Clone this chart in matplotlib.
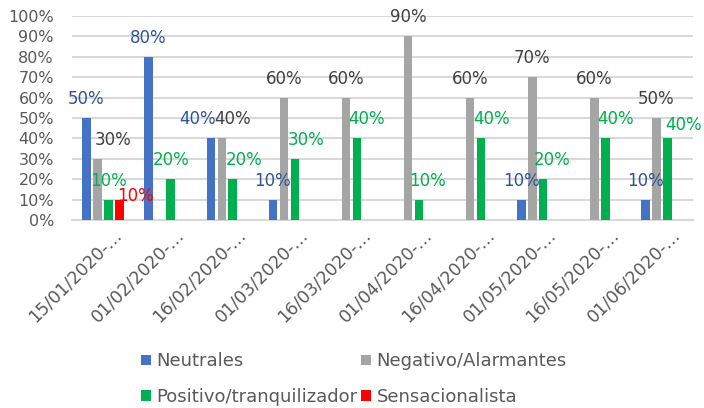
import matplotlib
matplotlib.use("Agg")
import matplotlib.pyplot as plt
import matplotlib.transforms as mtransforms
import numpy as np

# periods (x axis)
fechas = ["15/01/2020-…", "01/02/2020-…", "16/02/2020-…", "01/03/2020-…",
          "16/03/2020-…", "01/04/2020-…", "16/04/2020-…", "01/05/2020-…",
          "16/05/2020-…", "01/06/2020-…"]

# share of news per type (0 = no bar / no label)
neutrales = [0.5, 0.8, 0.4, 0.1, 0.0, 0.0, 0.0, 0.1, 0.0, 0.1]
negativo = [0.3, 0.0, 0.4, 0.6, 0.6, 0.9, 0.6, 0.7, 0.6, 0.5]
positivo = [0.1, 0.2, 0.2, 0.3, 0.4, 0.1, 0.4, 0.2, 0.4, 0.4]
sensacionalista = [0.1, 0.0, 0.0, 0.0, 0.0, 0.0, 0.0, 0.0, 0.0, 0.0]

series = [
    ("Neutrales", neutrales, "#4472C4", "#2F5597"),
    ("Negativo/Alarmantes", negativo, "#A5A5A5", "#404040"),
    ("Positivo/tranquilizador", positivo, "#00B050", "#00B050"),
    ("Sensacionalista", sensacionalista, "#FF0000", "#FF0000"),
]

# label nudges in pixels (group, series) -> (dx, dy), like Excel moved them
nudges = {
    (0, 1): (16, 0), (0, 3): (16, -15),
    (2, 0): (-13, 0), (2, 1): (11, 0), (2, 2): (11, 0),
    (3, 2): (11, 0), (4, 2): (10, 0), (5, 2): (8, 0), (6, 2): (10, 0),
    (7, 2): (9, 0), (8, 2): (10, 0), (9, 2): (16, -6),
}

plt.rcParams['font.family'] = ['DejaVu Sans']

fig = plt.figure(figsize=(7.04, 4.08), dpi=100)
ax = fig.add_axes([72 / 704, 1 - 220 / 408, 621 / 704, 204 / 408])

x = np.arange(len(fechas))
step = 0.177
width = 0.137

handles = []
for j, (name, vals, color, lcolor) in enumerate(series):
    pos = x + (j - 1.5) * step
    h = ax.bar(pos, vals, width=width, color=color, label=name, zorder=3)
    handles.append(h)
    for i, v in enumerate(vals):
        if v <= 0:
            continue
        dx, dy = nudges.get((i, j), (0, 0))
        ax.annotate(f"{v:.0%}", xy=(pos[i], v), xytext=(dx, 14 + dy),
                    textcoords="offset pixels", ha="center", va="baseline",
                    fontsize=12, color=lcolor, zorder=4)

ax.set_xlim(-0.5, len(fechas) - 0.5)
ax.set_ylim(0, 1)
ax.set_yticks(np.arange(0, 1.01, 0.1))
ax.set_yticklabels([f"{t:.0%}" for t in np.arange(0, 1.01, 0.1)])
ax.yaxis.grid(True, color="#D9D9D9", linewidth=1.5, zorder=0)
ax.tick_params(axis="y", length=0, pad=13, labelsize=11.5, labelcolor="#595959")
ax.tick_params(axis="x", length=0, labelsize=12.5, labelcolor="#595959")
for s in ["top", "right", "left"]:
    ax.spines[s].set_visible(False)
ax.spines["bottom"].set_color("#D9D9D9")
ax.spines["bottom"].set_linewidth(1.5)

ax.set_xticks(x)
ax.set_xticklabels(fechas, rotation=45, ha="right", va="center",
                   rotation_mode="anchor")
shift = mtransforms.ScaledTranslation(16 / 100, -7 / 100, fig.dpi_scale_trans)
for lab in ax.get_xticklabels():
    lab.set_transform(lab.get_transform() + shift)

# legend filled row by row like Excel
order = [0, 2, 1, 3]
fig.legend([handles[k] for k in order], [series[k][0] for k in order],
           loc="center", bbox_to_anchor=(354 / 704, 1 - 379 / 408), ncol=2,
           frameon=False, fontsize=13, handlelength=0.55, handleheight=0.55,
           handletextpad=0.3, columnspacing=0.2, labelspacing=0.95,
           labelcolor="#595959")

fig.savefig("out.png", dpi=100)
